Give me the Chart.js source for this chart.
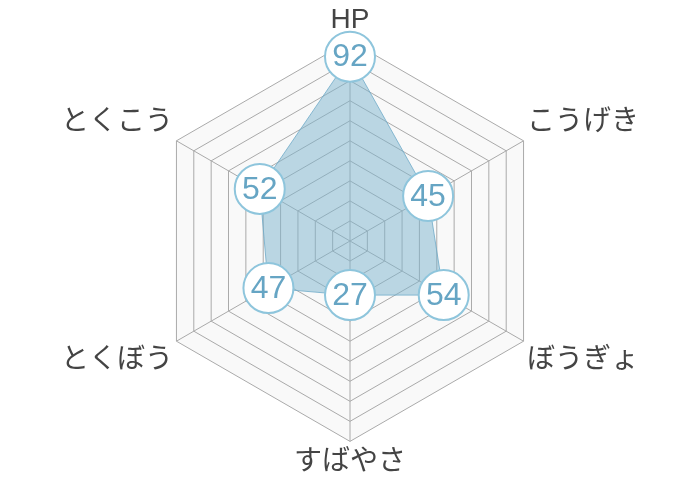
<!DOCTYPE html>
<html>
<head>
<meta charset="utf-8">
<script src="https://cdn.jsdelivr.net/npm/chart.js@4"></script>
<style>
  html, body { margin: 0; padding: 0; background: #fff; }
  #wrap { width: 700px; height: 480px; }
</style>
</head>
<body>
<div id="wrap"><canvas id="radarChart"></canvas></div>
<script>
var statLabels = ["HP", "こうげき", "ぼうぎょ", "すばやさ", "とくぼう", "とくこう"];
var statValues = [92, 45, 54, 27, 47, 52];
var maxValue = 100;
var stepValue = 10;

var fontFamily = "'Liberation Sans', 'Noto Sans CJK JP', sans-serif";

// draws the number inside each point circle
var valueLabels = {
  id: "valueLabels",
  afterDatasetsDraw: function (chart) {
    var ctx = chart.ctx;
    var meta = chart.getDatasetMeta(0);
    ctx.save();
    ctx.font = "32px " + fontFamily;
    ctx.fillStyle = "#66a5c4";
    ctx.textAlign = "center";
    ctx.textBaseline = "middle";
    meta.data.forEach(function (pt, i) {
      ctx.fillText(String(statValues[i]), pt.x, pt.y + 1);
    });
    ctx.restore();
  }
};

var ctx = document.getElementById("radarChart");
window.chart = new Chart(ctx, {
  type: "radar",
  data: {
    labels: statLabels,
    datasets: [
      {
        data: statValues,
        backgroundColor: "rgba(124, 180, 206, 0.5)",
        borderColor: "rgba(110, 170, 200, 0.8)",
        borderWidth: 1,
        pointRadius: 25,
        pointHoverRadius: 25,
        pointBackgroundColor: "#fff",
        pointBorderColor: "#8ec5dc",
        pointBorderWidth: 2
      }
    ]
  },
  options: {
    responsive: true,
    maintainAspectRatio: false,
    animation: false,
    layout: { padding: { top: 4, bottom: 0, left: 0, right: 0 } },
    plugins: {
      legend: { display: false },
      tooltip: { enabled: false }
    },
    scales: {
      r: {
        min: 0,
        max: maxValue,
        backgroundColor: "#f9f9f9",
        ticks: { display: false, stepSize: stepValue },
        grid: { color: "#aaa", lineWidth: 1 },
        angleLines: { color: "#aaa", lineWidth: 1 },
        pointLabels: {
          color: "#444",
          padding: 4,
          font: { size: 28, family: fontFamily }
        }
      }
    }
  },
  plugins: [valueLabels]
});
</script>
</body>
</html>
